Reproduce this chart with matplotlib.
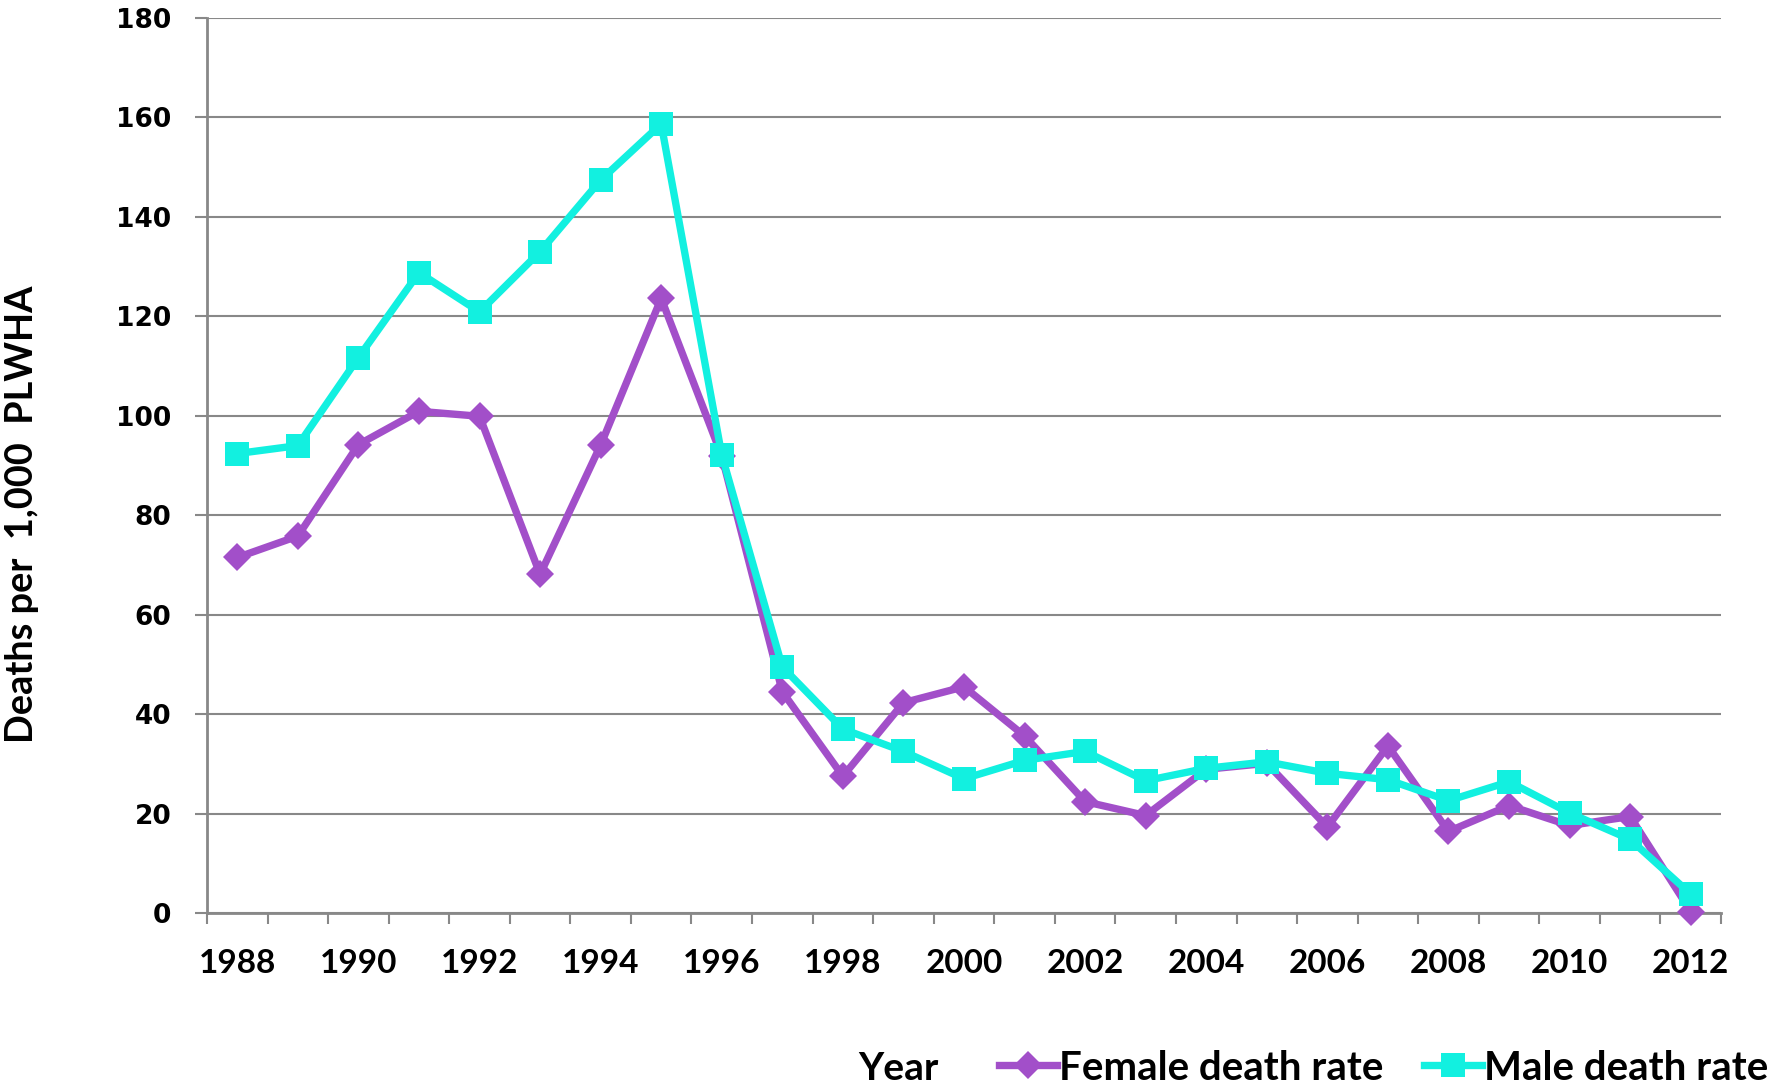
import matplotlib
matplotlib.use("Agg")
import matplotlib.pyplot as plt
from matplotlib.lines import Line2D

years = list(range(1988, 2013))
female = [71.5, 75.8, 94.2, 100.9, 99.9, 68.1, 94.1, 123.6, 91.9, 44.5, 27.5, 42.3, 45.5,
          35.6, 22.4, 19.6, 28.9, 30.1, 17.3, 33.6, 16.4, 21.6, 17.6, 19.4, 0.3]
male = [92.4, 94.0, 111.7, 128.8, 120.9, 133.0, 147.4, 158.7, 92.1, 49.5, 37.0, 32.5, 27.0,
        30.7, 32.5, 26.6, 29.1, 30.4, 28.1, 26.8, 22.6, 26.4, 20.1, 14.8, 3.8]
yticks = [0, 20, 40, 60, 80, 100, 120, 140, 160, 180]
series_names = ["Female death rate", "Male death rate"]

purple = "#A24FC9"
cyan = "#12F0E0"
grid_c = "#888888"
txt_font = ["Lato", "Liberation Sans", "DejaVu Sans"]
LW = 5.3

fig = plt.figure(figsize=(17.72, 10.89), dpi=100)
ax = fig.add_axes([207 / 1772, 1 - 913 / 1089, (1721 - 207) / 1772, (913 - 18) / 1089])

x = list(range(len(years)))
ax.plot(x, female, color=purple, lw=LW, marker="D", ms=14.5, mec=purple, mew=0,
        clip_on=False, zorder=3)
ax.plot(x, male, color=cyan, lw=LW, marker="s", ms=17, mec=cyan, mew=0,
        clip_on=False, zorder=4)

ax.set_xlim(-0.5, len(years) - 0.5)
ax.set_ylim(0, 180)
ax.set_yticks(yticks)
ax.set_yticklabels([str(v) for v in yticks], fontfamily="DejaVu Sans",
                   fontweight="bold", fontsize=19)
ax.grid(axis="y", color=grid_c, lw=1.5)
ax.set_axisbelow(True)

ax.set_xticks(x[::2])
ax.set_xticklabels([str(y) for y in years[::2]], fontfamily=txt_font,
                   fontweight="bold", fontsize=24)
ax.set_xticks([i - 0.5 for i in range(len(years) + 1)], minor=True)
ax.tick_params(axis="x", which="major", length=0, pad=26)
ax.tick_params(axis="x", which="minor", length=8, width=1.5, color=grid_c)
ax.tick_params(axis="y", which="major", length=8.5, width=1.5, color=grid_c, pad=17)

for s in ["top", "right"]:
    ax.spines[s].set_visible(False)
for s in ["left", "bottom"]:
    ax.spines[s].set_color(grid_c)
    ax.spines[s].set_linewidth(2)

fig.text(22 / 1772, 1 - 514 / 1089, "Deaths per  1,000  PLWHA", rotation=90,
         ha="center", va="center", fontfamily=txt_font, fontweight="bold", fontsize=27.3)
fig.text(898 / 1772, 1 - 1068 / 1089, "Year", ha="center", va="center",
         fontfamily=txt_font, fontweight="bold", fontsize=28)

handles = [Line2D([], [], color=purple, lw=LW, marker="D", ms=14.5, mew=0),
           Line2D([], [], color=cyan, lw=LW, marker="s", ms=17, mew=0)]
leg = fig.legend(handles, series_names, loc="center left",
                 bbox_to_anchor=(999 / 1772, 1 - 1068 / 1089), ncol=2, frameon=False,
                 borderpad=0, borderaxespad=0, handlelength=1.44, handletextpad=0.05,
                 columnspacing=1.0, prop={"family": txt_font, "weight": "bold", "size": 29})

fig.savefig("out.png", dpi=100)
